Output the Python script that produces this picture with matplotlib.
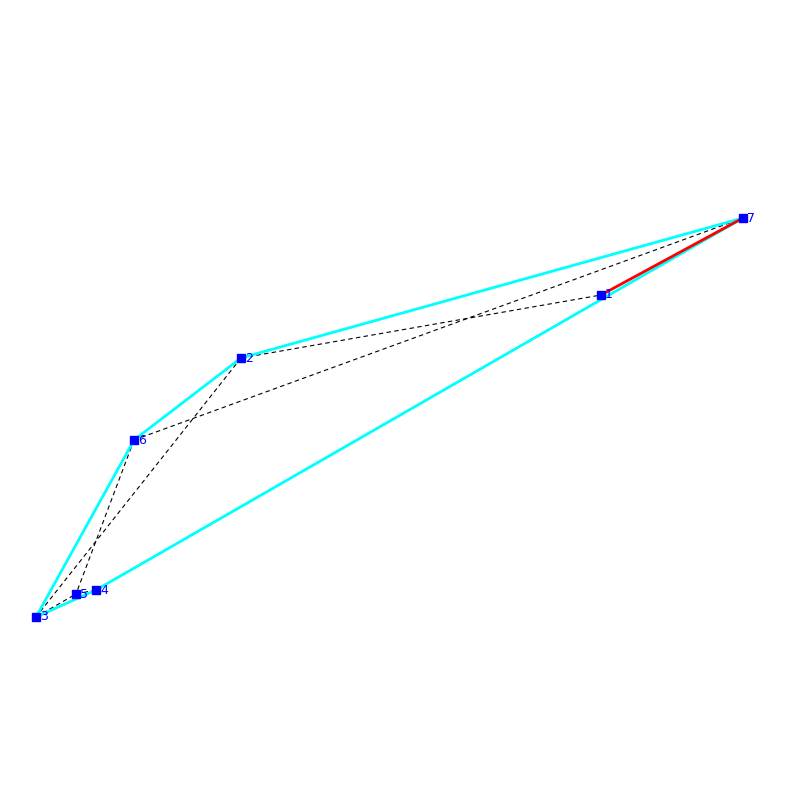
import matplotlib.pyplot as plt

# point coordinates (pixel-ish, y up)
labels = ["1", "2", "3", "4", "5", "6", "7"]
xs = [601, 241, 36, 96, 76, 134, 743]
ys = [505, 442, 183, 210, 206, 360, 582]

hull = [2, 3, 6, 1, 5, 2]          # indices of hull vertices
dashed = [(5, 6), (1, 0), (1, 2), (5, 4), (2, 4), (4, 3)]
red_edge = (0, 6)

fig = plt.figure(figsize=(8, 8), dpi=100)
ax = fig.add_axes([0, 0, 1, 1])
ax.set_xlim(0, 800)
ax.set_ylim(0, 800)
ax.axis("off")

for a, b in dashed:
    ax.plot([xs[a], xs[b]], [ys[a], ys[b]], color="black", linestyle=(0, (4, 3)), linewidth=0.8)

ax.plot([xs[i] for i in hull], [ys[i] for i in hull], color="cyan", linewidth=2)
ax.plot([xs[red_edge[0]], xs[red_edge[1]]], [ys[red_edge[0]], ys[red_edge[1]]], color="red", linewidth=2)

ax.plot(xs, ys, linestyle="none", marker="s", markersize=6, color="blue", zorder=5)
for x, y, t in zip(xs, ys, labels):
    ax.text(x + 4, y, t, color="blue", fontsize=9, va="center", ha="left", zorder=6)

fig.savefig("out.png")
